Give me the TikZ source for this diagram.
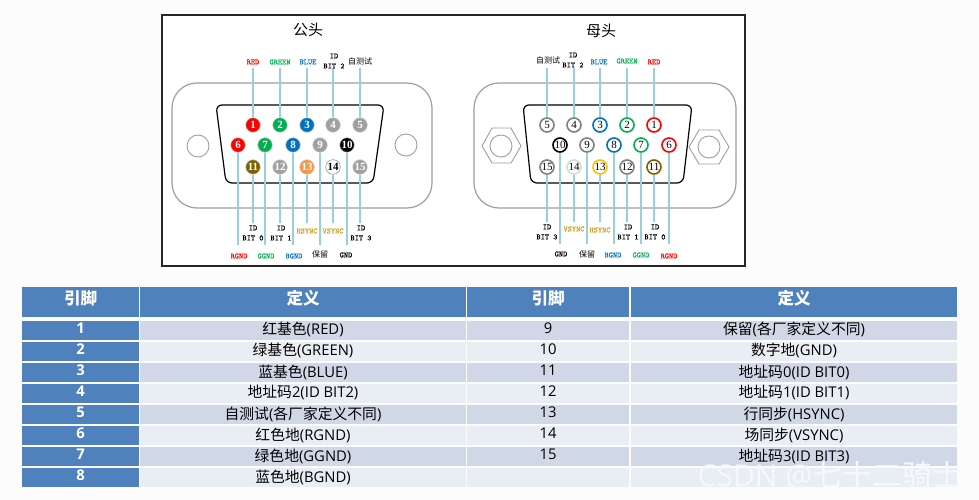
\documentclass[tikz,border=0pt]{standalone}
\usepackage{fontspec}
\setmainfont{Open Sans}
\newfontfamily\cjk{Noto Sans CJK SC}
\newfontfamily\pinfont{Liberation Serif}
\newfontfamily\tagfont{lmmono10-regular}[Extension=.otf,FakeBold=0.3]
\definecolor{pinred}{HTML}{FF0000}
\definecolor{pingreen}{HTML}{00B050}
\definecolor{pinblue}{HTML}{0070C0}
\definecolor{pingray}{HTML}{A0A0A0}
\definecolor{pinbrown}{HTML}{7F6000}
\definecolor{pinorange}{HTML}{F79646}
\definecolor{pinyellow}{HTML}{FFC000}
\definecolor{syncgold}{HTML}{C9A227}
\definecolor{wirecyan}{HTML}{9AD0DE}
\definecolor{headblue}{HTML}{4F81BD}
\definecolor{rowdark}{HTML}{D0D8E8}
\definecolor{rowlight}{HTML}{E9EDF4}
\definecolor{pagewhite}{HTML}{FCFCFC}
\definecolor{wmarkgray}{HTML}{F7F8FA}
\tikzset{
  shell/.style={draw=gray!75, line width=1.2pt, rounded corners=25pt},
  dshape/.style={draw=black, line width=1.2pt, rounded corners=6pt},
  hole/.style={draw=gray!75, line width=0.9pt, fill=white},
  wire/.style={draw=wirecyan, line width=1.3pt},
  tag/.style={font=\fontsize{8}{10}\selectfont\tagfont, align=center, inner sep=0pt},
  cjktag/.style={font=\fontsize{8}{10}\selectfont\cjk, inner sep=0pt},
  title/.style={font=\fontsize{15}{15}\selectfont\cjk, inner sep=0pt},
  mpin/.style={circle, minimum size=14.6pt, inner sep=0pt, draw=gray!40, line width=0.5pt, text=white, font=\fontsize{11}{11}\selectfont\pinfont\bfseries},
  fpin/.style={circle, minimum size=14pt, inner sep=0pt, fill=white, line width=1.6pt, text=black, font=\fontsize{11}{11}\selectfont\pinfont},
  cell/.style={minimum height=19pt, inner sep=0pt, text height=11pt, text depth=2pt, font=\fontsize{14.8}{15}\selectfont},
  headcell/.style={minimum height=30pt, inner sep=0pt, fill=headblue, text=white, text height=12pt, text depth=7.4pt, font=\fontsize{16.5}{17}\selectfont\cjk\bfseries},
  bluecell/.style={cell, fill=headblue, text=white, text height=10pt, text depth=3.4pt, font=\fontsize{14.8}{15}\selectfont\bfseries},
  darkcell/.style={cell, fill=rowdark},
  lightcell/.style={cell, fill=rowlight},
  darknum/.style={darkcell, text height=10pt, text depth=3.4pt},
  lightnum/.style={lightcell, text height=10pt, text depth=3.4pt},
  wmark/.style={text=wmarkgray, inner sep=0pt, font=\fontsize{30}{30}\selectfont}
}
\begin{document}
\begin{tikzpicture}[x=1pt,y=-1pt]
\fill[pagewhite] (0,0) rectangle (979,500);
\useasboundingbox (0,0) rectangle (979,500);
\draw[color=black!85, fill=white, line width=1.2pt] (162,15) rectangle (745,266);
\node[title] (mtitle) at (308,30) {公头};
\node[title] (ftitle) at (601,31) {母头};

\draw[shell] (172,83) rectangle (432,208);
\draw[dshape] (216,105) -- (384,105) -- (373,183) -- (226,183) -- cycle;
\draw[hole] (198,146) circle (11);
\draw[hole] (406,145) circle (11);

\draw[shell] (474,83) rectangle (736,208);
\draw[dshape] (523,105) -- (692,105) -- (683,183) -- (531,183) -- cycle;
\draw[hole] (482,146) -- (492,128) -- (511,128) -- (521,146) -- (511,163) -- (492,163) -- cycle;
\draw[hole] (501,146) circle (11);
\draw[hole] (689,147) -- (699,130) -- (719,130) -- (729,147) -- (719,164) -- (699,164) -- cycle;
\draw[hole] (709,147) circle (11);

\node[mpin, fill=pinred] (m1) at (253,125) {1};
\node[mpin, fill=pingreen] (m2) at (280,125) {2};
\node[mpin, fill=pinblue] (m3) at (307,125) {3};
\node[mpin, fill=pingray] (m4) at (333,125) {4};
\node[mpin, fill=pingray] (m5) at (360,125) {5};
\node[mpin, fill=pinred] (m6) at (238,145) {6};
\node[mpin, fill=pingreen] (m7) at (265,145) {7};
\node[mpin, fill=pinblue] (m8) at (293,145) {8};
\node[mpin, fill=pingray] (m9) at (320,145) {9};
\node[mpin, fill=black] (m10) at (347,145) {10};
\node[mpin, fill=pinbrown] (m11) at (253,167) {11};
\node[mpin, fill=pingray] (m12) at (280,167) {12};
\node[mpin, fill=pinorange] (m13) at (307,167) {13};
\node[mpin, fill=white, text=black, draw=gray] (m14) at (333,167) {14};
\node[mpin, fill=pingray] (m15) at (360,167) {15};

\coordinate (m1e) at (253,68);
\coordinate (m2e) at (280,68);
\coordinate (m3e) at (307,68);
\coordinate (m4e) at (333,68);
\coordinate (m5e) at (360,68);
\coordinate (m6e) at (238,245);
\coordinate (m7e) at (265,245);
\coordinate (m8e) at (293,245);
\coordinate (m9e) at (320,245);
\coordinate (m10e) at (347,245);
\coordinate (m11e) at (253,223);
\coordinate (m12e) at (280,223);
\coordinate (m13e) at (307,223);
\coordinate (m14e) at (333,223);
\coordinate (m15e) at (360,223);
\draw[wire] (m1) -- (m1e);
\draw[wire] (m2) -- (m2e);
\draw[wire] (m3) -- (m3e);
\draw[wire] (m4) -- (m4e);
\draw[wire] (m5) -- (m5e);
\draw[wire] (m6) -- (m6e);
\draw[wire] (m7) -- (m7e);
\draw[wire] (m8) -- (m8e);
\draw[wire] (m9) -- (m9e);
\draw[wire] (m10) -- (m10e);
\draw[wire] (m11) -- (m11e);
\draw[wire] (m12) -- (m12e);
\draw[wire] (m13) -- (m13e);
\draw[wire] (m14) -- (m14e);
\draw[wire] (m15) -- (m15e);

\node[tag, text=pinred] (m1t) at (253,62) {RED};
\node[tag, text=pingreen] (m2t) at (280,62) {GREEN};
\node[tag, text=pinblue] (m3t) at (308,62) {BLUE};
\node[tag] (m4t) at (334,61) {ID\\BIT 2};
\node[cjktag] (m5t) at (360,61) {自测试};
\node[tag, text=pinred] (m6t) at (239,256) {RGND};
\node[tag, text=pingreen] (m7t) at (266,256) {GGND};
\node[tag, text=pinblue] (m8t) at (294,256) {BGND};
\node[cjktag] (m9t) at (320,254) {保留};
\node[tag] (m10t) at (346,255) {GND};
\node[tag] (m11t) at (253,233) {ID\\BIT 0};
\node[tag] (m12t) at (281,233) {ID\\BIT 1};
\node[tag, text=syncgold] (m13t) at (307,231) {HSYNC};
\node[tag, text=syncgold] (m14t) at (333,231) {VSYNC};
\node[tag] (m15t) at (361,233) {ID\\BIT 3};

\node[fpin, draw=pinred] (f1) at (654,125) {1};
\node[fpin, draw=pingreen] (f2) at (627,125) {2};
\node[fpin, draw=pinblue] (f3) at (600,125) {3};
\node[fpin, draw=gray] (f4) at (574,125) {4};
\node[fpin, draw=gray] (f5) at (547,125) {5};
\node[fpin, draw=pinred] (f6) at (669,145) {6};
\node[fpin, draw=pingreen] (f7) at (641,145) {7};
\node[fpin, draw=pinblue] (f8) at (614,145) {8};
\node[fpin, draw=gray] (f9) at (587,145) {9};
\node[fpin, draw=black] (f10) at (560,145) {10};
\node[fpin, draw=pinbrown] (f11) at (654,167) {11};
\node[fpin, draw=gray] (f12) at (627,167) {12};
\node[fpin, draw=pinyellow] (f13) at (600,167) {13};
\node[fpin, draw=gray!30] (f14) at (574,167) {14};
\node[fpin, draw=gray] (f15) at (547,167) {15};

\coordinate (f1e) at (654,68);
\coordinate (f2e) at (627,68);
\coordinate (f3e) at (600,68);
\coordinate (f4e) at (574,68);
\coordinate (f5e) at (547,68);
\coordinate (f6e) at (669,244);
\coordinate (f7e) at (641,244);
\coordinate (f8e) at (614,244);
\coordinate (f9e) at (587,244);
\coordinate (f10e) at (560,244);
\coordinate (f11e) at (654,222);
\coordinate (f12e) at (627,222);
\coordinate (f13e) at (600,222);
\coordinate (f14e) at (574,222);
\coordinate (f15e) at (547,222);
\draw[wire] (f1) -- (f1e);
\draw[wire] (f2) -- (f2e);
\draw[wire] (f3) -- (f3e);
\draw[wire] (f4) -- (f4e);
\draw[wire] (f5) -- (f5e);
\draw[wire] (f6) -- (f6e);
\draw[wire] (f7) -- (f7e);
\draw[wire] (f8) -- (f8e);
\draw[wire] (f9) -- (f9e);
\draw[wire] (f10) -- (f10e);
\draw[wire] (f11) -- (f11e);
\draw[wire] (f12) -- (f12e);
\draw[wire] (f13) -- (f13e);
\draw[wire] (f14) -- (f14e);
\draw[wire] (f15) -- (f15e);

\node[tag, text=pinred] (f1t) at (654,62) {RED};
\node[tag, text=pingreen] (f2t) at (627,61) {GREEN};
\node[tag, text=pinblue] (f3t) at (599,62) {BLUE};
\node[tag] (f4t) at (573,60) {ID\\BIT 2};
\node[cjktag] (f5t) at (548,60) {自测试};
\node[tag, text=pinred] (f6t) at (669,256) {RGND};
\node[tag, text=pingreen] (f7t) at (641,255) {GGND};
\node[tag, text=pinblue] (f8t) at (613,255) {BGND};
\node[cjktag] (f9t) at (587,254) {保留};
\node[tag] (f10t) at (561,254) {GND};
\node[tag] (f11t) at (655,232) {ID\\BIT 0};
\node[tag] (f12t) at (628,232) {ID\\BIT 1};
\node[tag, text=syncgold] (f13t) at (600,230) {HSYNC};
\node[tag, text=syncgold] (f14t) at (574,229) {VSYNC};
\node[tag] (f15t) at (547,232) {ID\\BIT 3};

\node[headcell, minimum width=117pt] (h1) at (80.5,302) {引脚};
\node[headcell, minimum width=326pt] (h2) at (303,302) {定义};
\node[headcell, minimum width=162pt] (h3) at (548,302) {引脚};
\node[headcell, minimum width=326pt] (h4) at (794,302) {定义};

\node[bluecell, minimum width=117pt] (a1) at (80.5,330) {1};
\node[darkcell, minimum width=326pt] (b1) at (303,330) {{\cjk 红基色}(RED)};
\node[darknum, minimum width=162pt] (c1) at (548,330) {9};
\node[darkcell, minimum width=326pt] (d1) at (794,330) {{\cjk 保留}({\cjk 各厂家定义不同})};

\node[bluecell, minimum width=117pt] (a2) at (80.5,351) {2};
\node[lightcell, minimum width=326pt] (b2) at (303,351) {{\cjk 绿基色}(GREEN)};
\node[lightnum, minimum width=162pt] (c2) at (548,351) {10};
\node[lightcell, minimum width=326pt] (d2) at (794,351) {{\cjk 数字地}(GND)};

\node[bluecell, minimum width=117pt] (a3) at (80.5,372.5) {3};
\node[darkcell, minimum width=326pt] (b3) at (303,372.5) {{\cjk 蓝基色}(BLUE)};
\node[darknum, minimum width=162pt] (c3) at (548,372.5) {11};
\node[darkcell, minimum width=326pt] (d3) at (794,372.5) {{\cjk 地址码}0(ID BIT0)};

\node[bluecell, minimum width=117pt] (a4) at (80.5,393) {4};
\node[lightcell, minimum width=326pt] (b4) at (303,393) {{\cjk 地址码}2(ID BIT2)};
\node[lightnum, minimum width=162pt] (c4) at (548,393) {12};
\node[lightcell, minimum width=326pt] (d4) at (794,393) {{\cjk 地址码}1(ID BIT1)};

\node[bluecell, minimum width=117pt] (a5) at (80.5,414.5) {5};
\node[darkcell, minimum width=326pt] (b5) at (303,414.5) {{\cjk 自测试}({\cjk 各厂家定义不同})};
\node[darknum, minimum width=162pt] (c5) at (548,414.5) {13};
\node[darkcell, minimum width=326pt] (d5) at (794,414.5) {{\cjk 行同步}(HSYNC)};

\node[bluecell, minimum width=117pt] (a6) at (80.5,435.5) {6};
\node[lightcell, minimum width=326pt] (b6) at (303,435.5) {{\cjk 红色地}(RGND)};
\node[lightnum, minimum width=162pt] (c6) at (548,435.5) {14};
\node[lightcell, minimum width=326pt] (d6) at (794,435.5) {{\cjk 场同步}(VSYNC)};

\node[bluecell, minimum width=117pt] (a7) at (80.5,456.5) {7};
\node[darkcell, minimum width=326pt] (b7) at (303,456.5) {{\cjk 绿色地}(GGND)};
\node[darknum, minimum width=162pt] (c7) at (548,456.5) {15};
\node[darkcell, minimum width=326pt] (d7) at (794,456.5) {{\cjk 地址码}3(ID BIT3)};

\node[bluecell, minimum width=117pt] (a8) at (80.5,477.5) {8};
\node[lightcell, minimum width=326pt] (b8) at (303,477.5) {{\cjk 蓝色地}(BGND)};
\node[lightnum, minimum width=162pt] (c8) at (548,477.5) {};
\node[lightcell, minimum width=326pt] (d8) at (794,477.5) {};

\node[wmark] (csdn) at (830,475) {CSDN @{\cjk 七十二骑士}};
\end{tikzpicture}
\end{document}
